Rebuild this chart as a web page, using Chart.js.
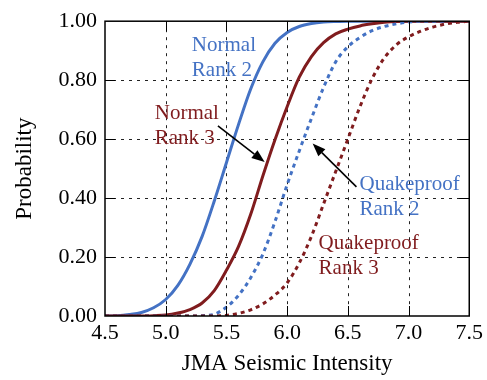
<!DOCTYPE html>
<html>
<head>
<meta charset="utf-8">
<script src="https://cdn.jsdelivr.net/npm/chart.js@4.4.1/dist/chart.umd.min.js"></script>
<style>
  html, body { margin: 0; padding: 0; background: #fff; }
  #wrap { width: 487px; height: 380px; }
</style>
</head>
<body>
<div id="wrap"><canvas id="fragility"></canvas></div>
<script>
// JMA intensity steps (x) and probability of each damage rank
const intensity = [4.5, 4.6, 4.7, 4.8, 4.9, 5.0, 5.1, 5.2, 5.3, 5.4, 5.5, 5.6, 5.7, 5.8, 5.9, 6.0,
                   6.1, 6.2, 6.3, 6.4, 6.5, 6.6, 6.7, 6.8, 6.9, 7.0, 7.1, 7.2, 7.3, 7.4, 7.5];
const normalRank2 = [0, 0.001, 0.005, 0.012, 0.028, 0.056, 0.104, 0.176, 0.27, 0.39, 0.52, 0.65, 0.77, 0.862, 0.925, 0.962,
                     0.982, 0.992, 0.997, 0.999, 1, 1, 1, 1, 1, 1, 1, 1, 1, 1, 1];
const normalRank3 = [0, 0, 0, 0, 0.001, 0.003, 0.01, 0.022, 0.044, 0.086, 0.155, 0.236, 0.345, 0.475, 0.598, 0.71,
                     0.81, 0.88, 0.927, 0.957, 0.973, 0.984, 0.991, 0.996, 0.999, 1, 1, 1, 1, 1, 1];
const quakeRank2 = [0, 0, 0, 0, 0, 0, 0, 0, 0.001, 0.006, 0.03, 0.07, 0.13, 0.21, 0.32, 0.445,
                    0.56, 0.67, 0.775, 0.862, 0.913, 0.945, 0.968, 0.982, 0.991, 0.997, 1, 1, 1, 1, 1];
const quakeRank3 = [0, 0, 0, 0, 0, 0, 0, 0, 0, 0, 0.002, 0.009, 0.021, 0.041, 0.071, 0.112,
                    0.18, 0.27, 0.38, 0.49, 0.6, 0.71, 0.805, 0.875, 0.92, 0.947, 0.966, 0.98, 0.99, 0.996, 1];

const xTicks = [4.5, 5.0, 5.5, 6.0, 6.5, 7.0, 7.5];
const yTicks = [0, 0.2, 0.4, 0.6, 0.8, 1.0];

const BLUE = 'rgb(68,114,196)';
const RED = 'rgb(128,28,30)';
const SERIF = '"Liberation Serif", "Times New Roman", serif';

// curve labels, placed in data units (left edge, baseline of first line)
const notes = [
  { lines: ['Normal', 'Rank 2'], x: 5.215, y: 0.900, color: BLUE },
  { lines: ['Normal', 'Rank 3'], x: 4.91, y: 0.668, color: RED },
  { lines: ['Quakeproof', 'Rank 2'], x: 6.596, y: 0.429, color: BLUE },
  { lines: ['Quakeproof', 'Rank 3'], x: 6.259, y: 0.226, color: RED }
];
const arrows = [
  { from: [5.43, 0.645], to: [5.815, 0.522] },
  { from: [6.571, 0.438], to: [6.21, 0.585] }
];

function pts(ys) {
  return intensity.map((x, i) => ({ x: x, y: ys[i] }));
}

function series(label, ys, color, dotted) {
  return {
    label: label,
    data: pts(ys),
    borderColor: color,
    borderWidth: 3,
    borderDash: dotted ? [4, 4] : [],
    pointRadius: 0,
    fill: false,
    cubicInterpolationMode: 'monotone'
  };
}

// dashed grid under the curves, frame + inward ticks + labels on top
const decor = {
  id: 'decor',
  beforeDatasetsDraw(chart) {
    const { ctx, chartArea: a, scales: { x, y } } = chart;
    ctx.save();
    ctx.strokeStyle = '#222';
    ctx.lineWidth = 1;
    ctx.setLineDash([3, 5]);
    xTicks.slice(1, -1).forEach(v => {
      const px = Math.round(x.getPixelForValue(v)) + 0.5;
      ctx.beginPath(); ctx.moveTo(px, a.top); ctx.lineTo(px, a.bottom); ctx.stroke();
    });
    yTicks.slice(1, -1).forEach(v => {
      const py = Math.round(y.getPixelForValue(v)) + 0.5;
      ctx.beginPath(); ctx.moveTo(a.left, py); ctx.lineTo(a.right, py); ctx.stroke();
    });
    ctx.restore();
  },
  afterDatasetsDraw(chart) {
    const { ctx, chartArea: a, scales: { x, y } } = chart;
    ctx.save();
    ctx.strokeStyle = '#000';
    ctx.lineWidth = 1.5;
    ctx.strokeRect(a.left, a.top, a.right - a.left, a.bottom - a.top);
    const len = 10;
    ctx.lineWidth = 1;
    ctx.beginPath();
    xTicks.slice(1, -1).forEach(v => {
      const px = Math.round(x.getPixelForValue(v)) + 0.5;
      ctx.moveTo(px, a.bottom); ctx.lineTo(px, a.bottom - len);
      ctx.moveTo(px, a.top); ctx.lineTo(px, a.top + len);
    });
    yTicks.slice(1, -1).forEach(v => {
      const py = Math.round(y.getPixelForValue(v)) + 0.5;
      ctx.moveTo(a.left, py); ctx.lineTo(a.left + len, py);
      ctx.moveTo(a.right, py); ctx.lineTo(a.right - len, py);
    });
    ctx.stroke();

    // labels
    ctx.font = '21px ' + SERIF;
    ctx.textBaseline = 'alphabetic';
    ctx.textAlign = 'left';
    notes.forEach(n => {
      ctx.fillStyle = n.color;
      const px = x.getPixelForValue(n.x);
      const py = y.getPixelForValue(n.y);
      n.lines.forEach((t, i) => ctx.fillText(t, px, py + i * 25));
    });

    // arrows
    ctx.strokeStyle = '#000';
    ctx.fillStyle = '#000';
    ctx.lineWidth = 1.6;
    arrows.forEach(ar => {
      const x0 = x.getPixelForValue(ar.from[0]), y0 = y.getPixelForValue(ar.from[1]);
      const x1 = x.getPixelForValue(ar.to[0]), y1 = y.getPixelForValue(ar.to[1]);
      const ang = Math.atan2(y1 - y0, x1 - x0);
      const head = 13, wing = 5;
      const bx = x1 - head * Math.cos(ang), by = y1 - head * Math.sin(ang);
      ctx.beginPath(); ctx.moveTo(x0, y0); ctx.lineTo(bx, by); ctx.stroke();
      ctx.beginPath();
      ctx.moveTo(x1, y1);
      ctx.lineTo(bx + wing * Math.sin(ang), by - wing * Math.cos(ang));
      ctx.lineTo(bx - wing * Math.sin(ang), by + wing * Math.cos(ang));
      ctx.closePath(); ctx.fill();
    });
    ctx.restore();
  }
};

new Chart('fragility', {
  type: 'line',
  data: {
    datasets: [
      series('Quakeproof Rank 3', quakeRank3, RED, true),
      series('Quakeproof Rank 2', quakeRank2, BLUE, true),
      series('Normal Rank 3', normalRank3, RED, false),
      series('Normal Rank 2', normalRank2, BLUE, false)
    ]
  },
  options: {
    responsive: true,
    maintainAspectRatio: false,
    animation: false,
    layout: { padding: { top: 15, right: 17, left: 0, bottom: 0 } },
    plugins: { legend: { display: false }, tooltip: { enabled: false } },
    scales: {
      x: {
        type: 'linear',
        min: 4.5, max: 7.5,
        afterBuildTicks: s => { s.ticks = xTicks.map(v => ({ value: v })); },
        afterFit: s => { s.height = 64; },
        grid: { display: false, drawTicks: false },
        border: { display: false },
        ticks: {
          padding: 4,
          color: '#000',
          font: { family: SERIF, size: 22 },
          callback: v => Number(v).toFixed(1)
        },
        title: {
          display: true,
          text: 'JMA Seismic Intensity',
          color: '#000',
          font: { family: SERIF, size: 23 },
          padding: { top: 0, bottom: 2 }
        }
      },
      y: {
        min: 0, max: 1,
        afterBuildTicks: s => { s.ticks = yTicks.map(v => ({ value: v })); },
        afterFit: s => { s.width = 105; },
        grid: { display: false, drawTicks: false },
        border: { display: false },
        ticks: {
          padding: 8,
          color: '#000',
          font: { family: SERIF, size: 22 },
          callback: v => Number(v).toFixed(2)
        },
        title: {
          display: true,
          text: 'Probability',
          color: '#000',
          font: { family: SERIF, size: 23 },
          padding: { top: 11, bottom: 0 }
        }
      }
    }
  },
  plugins: [decor]
});
</script>
</body>
</html>
